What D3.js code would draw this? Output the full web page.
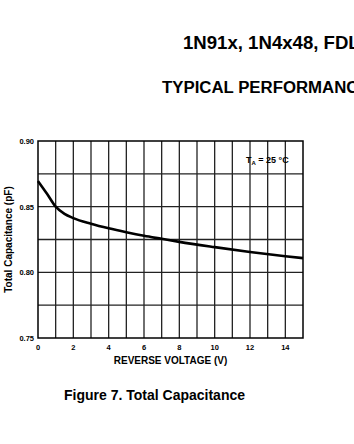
<!DOCTYPE html>
<html>
<head>
<meta charset="utf-8">
<script src="https://cdn.jsdelivr.net/npm/d3@7"></script>
<style>
  body { margin: 0; background: #fff; }
  svg { display: block; font-family: "Liberation Sans", Arial, sans-serif; }
</style>
</head>
<body>
<script>
// reverse voltage (V) and total capacitance (pF)
const voltage = [0, 0.5, 1, 1.5, 2, 3, 4, 5, 6, 7, 8, 10, 12, 14, 15];
const capacitance = [0.8695, 0.860, 0.850, 0.8445, 0.8413, 0.837, 0.8335, 0.8305, 0.8278, 0.8255, 0.8232, 0.8192, 0.8155, 0.8123, 0.8108];

const xTicks = [0, 2, 4, 6, 8, 10, 12, 14];
const yTicks = [0.75, 0.80, 0.85, 0.90];

const W = 354, H = 444;
const margin = { left: 38, right: 51, top: 141, bottom: 106 };

const svg = d3.select("body").append("svg").attr("width", W).attr("height", H);

const x = d3.scaleLinear().domain([0, 15]).range([margin.left, W - margin.right]);
const y = d3.scaleLinear().domain([0.75, 0.90]).range([H - margin.bottom, margin.top]);

// header text (runs off the right edge like the page)
svg.append("text").attr("x", 183).attr("y", 49)
  .attr("font-size", 18.6).attr("font-weight", "bold")
  .text("1N91x, 1N4x48, FDLL4148 / 4448");
svg.append("text").attr("x", 162).attr("y", 93)
  .attr("font-size", 16.8).attr("font-weight", "bold")
  .text("TYPICAL PERFORMANCE CHARACTERISTICS");

// grid
const grid = svg.append("g").attr("stroke", "#222").attr("stroke-width", 1.3);
grid.selectAll("line.v").data(d3.range(1, 15)).join("line")
  .attr("x1", d => x(d)).attr("x2", d => x(d))
  .attr("y1", y(0.90)).attr("y2", y(0.75));
grid.selectAll("line.h").data(d3.range(1, 6).map(i => 0.75 + i * 0.025)).join("line")
  .attr("x1", x(0)).attr("x2", x(15))
  .attr("y1", d => y(d)).attr("y2", d => y(d));

svg.append("rect")
  .attr("x", x(0)).attr("y", y(0.90))
  .attr("width", x(15) - x(0)).attr("height", y(0.75) - y(0.90))
  .attr("fill", "none").attr("stroke", "#000").attr("stroke-width", 1.5);

// axes labels
svg.append("g").selectAll("text").data(xTicks).join("text")
  .attr("x", d => x(d)).attr("y", y(0.75) + 12)
  .attr("text-anchor", "middle").attr("font-size", 7.5).attr("font-weight", "bold")
  .text(d => d);
svg.append("g").selectAll("text").data(yTicks).join("text")
  .attr("x", x(0) - 4).attr("y", d => y(d) + 3)
  .attr("text-anchor", "end").attr("font-size", 7.5).attr("font-weight", "bold")
  .text(d => d3.format(".2f")(d));

svg.append("text")
  .attr("x", (x(0) + x(15)) / 2).attr("y", 364)
  .attr("text-anchor", "middle").attr("font-size", 10).attr("font-weight", "bold")
  .text("REVERSE VOLTAGE (V)");
svg.append("text")
  .attr("transform", `translate(12,${(y(0.75) + y(0.90)) / 2}) rotate(-90)`)
  .attr("text-anchor", "middle").attr("font-size", 10).attr("font-weight", "bold")
  .text("Total Capacitance (pF)");

// curve
const line = d3.line().x((d, i) => x(voltage[i])).y(d => y(d)).curve(d3.curveMonotoneX);
svg.append("path").datum(capacitance)
  .attr("d", line).attr("fill", "none")
  .attr("stroke", "#000").attr("stroke-width", 2.6);

// temperature note
const note = svg.append("text").attr("x", 246).attr("y", 163)
  .attr("font-size", 9).attr("font-weight", "bold");
note.append("tspan").text("T");
note.append("tspan").attr("font-size", 6).attr("dy", 2).text("A");
note.append("tspan").attr("dy", -2).text(" = 25 °C");

// caption
svg.append("text").attr("x", 64).attr("y", 400)
  .attr("font-size", 14).attr("font-weight", "bold")
  .text("Figure 7. Total Capacitance");
</script>
</body>
</html>
